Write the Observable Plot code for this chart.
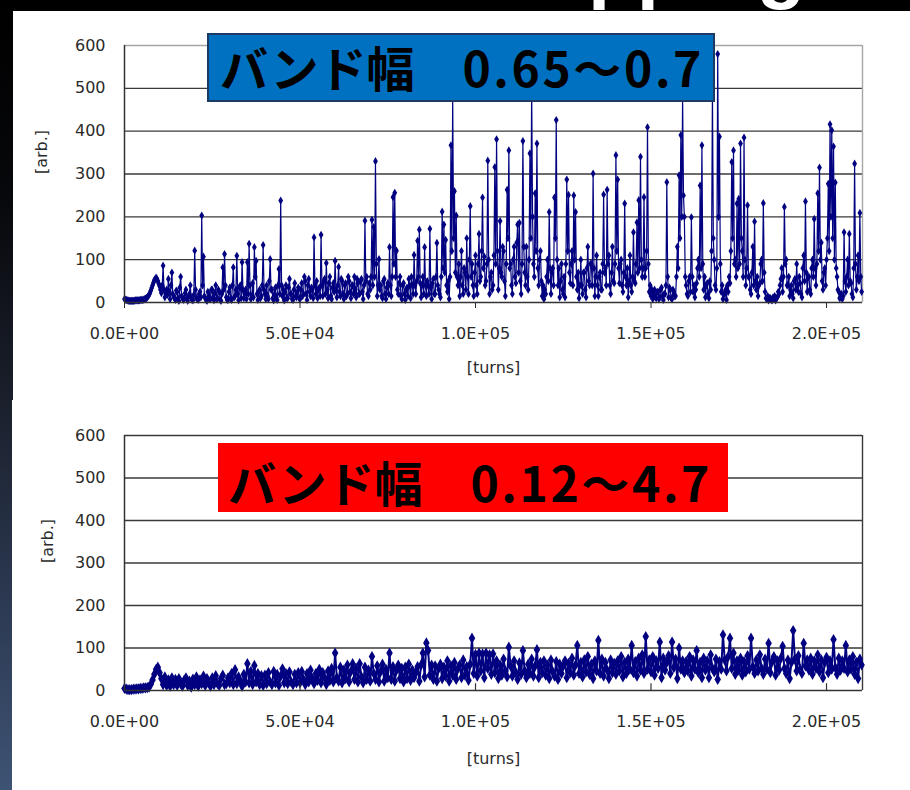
<!DOCTYPE html>
<html><head><meta charset="utf-8">
<script src="https://cdn.jsdelivr.net/npm/d3@7"></script>
<script src="https://cdn.jsdelivr.net/npm/@observablehq/plot@0.6"></script>
<style>
html,body{margin:0;padding:0;background:#000;}
#page{position:relative;width:910px;height:790px;overflow:hidden;background:#000;}
.abs{position:absolute;}
#strip{left:0;top:0;width:16px;height:790px;background:linear-gradient(to bottom,#000 0%,#07080b 25%,#1a1f2b 50%,#2b3850 75%,#3e5374 100%);}
#panel1{left:13px;top:11px;width:897px;height:389px;background:#fff;}
#panel2{left:12px;top:400px;width:898px;height:390px;background:#fff;}
#chart1{left:0;top:0;}
#chart2{left:0;top:390px;}
.box{font-family:"Noto Sans CJK JP";font-weight:bold;font-size:48px;color:#000;white-space:pre;box-sizing:border-box;}
.box .num{letter-spacing:2.6px;}
#box1{left:207px;top:33px;width:508px;height:69px;background:#0070c0;border:2px solid #1c3a64;padding-left:11px;line-height:62px;}
#box2{left:218px;top:443px;width:510px;height:69px;background:#ff0000;padding-left:10px;line-height:76px;}
#toptitle{left:0;top:0;}
</style>
</head><body>
<div id="page">
  <svg id="toptitle" class="abs" width="910" height="11"><text x="588" y="-7" font-family="Liberation Sans" font-weight="bold" font-size="80" fill="#fff">pping</text></svg>
  <div id="strip" class="abs"></div>
  <div id="panel1" class="abs"></div>
  <div id="panel2" class="abs"></div>
  <div id="chart1" class="abs"></div>
  <div id="chart2" class="abs"></div>
  <div id="box1" class="abs box"></div>
  <div id="box2" class="abs box"></div>
</div>
<script>
// ---- data ----
const STEP_TOP = 250;    // turns between samples, upper chart
const STEP_BOTTOM = 500; // turns between samples, lower chart
const titleWord = "バンド幅";
const rangeTop = "0.65～0.7";
const rangeBottom = "0.12～4.7";
const yTicks = [0, 100, 200, 300, 400, 500, 600];
const xTicks = [0, 50000, 100000, 150000, 200000];
const yLabel = "[arb.]";
const xLabel = "[turns]";

const seriesTop = [
  8,7,6,5,5,4,4,4,4,4,4,4,5,5,5,5,5,5,6,6,
  6,6,7,8,9,10,12,15,18,22,28,34,40,46,52,55,58,55,50,44,
  38,30,22,40,86,30,12,20,30,18,55,25,8,40,70,20,15,10,6,28,
  25,10,4,35,60,15,12,6,8,22,30,10,4,15,20,40,10,6,5,18,
  121,30,10,8,6,20,25,12,203,40,107,15,10,6,4,25,20,10,8,30,
  30,12,5,22,40,8,10,30,25,6,4,20,82,30,113,40,12,6,6,25,
  35,10,6,40,82,12,15,30,109,20,5,35,40,10,94,30,10,20,30,8,
  94,20,137,40,8,15,45,12,129,60,97,20,6,25,30,10,15,40,134,30,
  20,8,40,15,8,50,101,30,30,10,5,20,35,12,6,40,78,20,238,40,
  15,30,5,25,40,10,10,35,55,20,20,8,6,30,45,15,12,25,35,10,
  8,30,45,15,20,60,50,20,6,40,55,25,15,35,30,10,152,40,20,50,
  10,30,35,15,158,40,15,50,55,20,92,30,10,45,60,15,8,35,45,25,
  97,30,12,40,83,25,15,55,50,20,8,40,45,15,20,60,50,25,10,40,
  40,20,60,30,12,55,45,20,20,50,55,25,8,40,191,50,60,20,15,45,
  30,60,193,40,176,60,330,90,15,40,101,30,40,15,10,50,55,20,8,35,
  45,20,129,40,15,60,246,90,256,60,121,30,20,45,60,15,8,40,45,20,
  6,30,35,15,55,40,10,60,40,20,111,40,20,50,144,60,170,45,12,40,
  60,20,129,40,15,50,40,20,172,35,8,45,55,20,20,60,139,40,30,20,
  12,60,212,80,182,70,146,40,25,50,8,60,367,120,480,150,260,70,203,60,
  40,90,15,60,120,40,20,80,70,30,150,60,20,100,225,60,90,40,15,70,
  110,40,20,90,160,50,60,120,245,80,107,40,50,90,331,100,20,60,70,30,
  40,110,316,90,381,120,30,80,190,70,60,130,120,50,15,90,263,150,355,80,
  90,40,20,100,130,60,45,140,182,70,186,50,20,90,377,130,70,40,130,60,
  30,100,348,150,500,200,90,60,255,120,371,80,40,100,120,50,15,40,8,30,
  20,60,100,50,211,80,20,70,80,40,245,150,426,100,40,80,12,50,90,30,
  20,60,12,90,287,120,251,70,45,90,120,40,250,100,211,60,30,70,10,40,
  100,40,20,70,70,30,12,80,130,50,40,90,90,40,301,80,15,60,110,40,
  15,60,70,30,30,90,252,70,80,40,263,90,110,40,20,70,130,50,45,90,
  344,120,287,80,45,90,100,40,25,70,231,60,40,80,12,50,110,40,25,60,
  164,50,45,90,187,70,239,80,340,100,60,80,246,60,80,120,409,90,25,40,
  15,30,8,20,30,12,10,25,25,8,12,30,35,15,6,20,20,40,281,60,
  12,35,30,10,8,30,25,15,15,60,130,80,297,150,391,200,480,250,200,60,
  40,20,15,50,60,25,199,60,25,40,12,30,45,80,100,60,273,80,367,90,
  30,60,12,40,45,20,10,50,30,120,495,150,100,40,30,80,580,200,387,90,
  25,40,8,20,20,30,6,40,25,60,45,120,328,150,355,90,100,60,231,80,
  242,90,371,150,120,60,385,100,40,80,227,60,60,30,20,70,130,40,189,50,
  30,60,15,40,45,90,100,50,232,70,25,10,8,15,5,10,10,6,5,12,
  8,15,5,10,12,25,20,40,55,80,25,60,223,90,100,40,40,60,15,30,
  40,20,10,50,55,30,90,40,25,60,45,20,12,80,110,50,236,70,25,60,
  60,30,20,80,100,60,195,80,40,90,255,120,315,100,140,50,30,70,80,40,
  100,150,277,120,416,200,402,150,364,100,280,80,60,30,25,10,12,20,8,15,
  164,50,25,60,100,40,160,50,45,20,12,80,324,90,30,60,110,50,209,60,
  25
];

const seriesBottom = [
  5,3,2,2,2,3,3,4,4,5,
  5,6,6,7,8,15,25,38,50,55,
  42,28,14,32,12,25,10,30,14,26,
  12,28,16,10,24,30,12,22,8,27,
  14,32,10,25,16,34,12,28,18,10,
  30,14,35,16,12,28,36,14,16,30,
  18,40,14,49,16,32,22,10,38,20,
  63,18,45,14,59,20,40,14,35,12,
  36,16,42,20,14,45,18,38,12,34,
  51,18,40,16,44,20,14,38,18,42,
  18,45,26,14,40,20,48,28,16,40,
  24,50,18,42,30,14,46,24,52,20,
  88,30,22,55,18,48,28,60,20,45,
  63,26,52,20,63,32,18,55,26,48,
  22,80,40,26,58,20,45,62,22,50,
  30,88,26,56,22,48,60,28,52,20,
  55,28,62,24,48,30,42,56,22,60,
  88,32,112,94,36,60,26,58,22,52,
  62,28,55,34,70,22,58,36,66,26,
  52,60,30,72,36,56,24,62,123,40,
  85,34,88,46,86,30,88,52,84,38,
  86,42,70,28,60,36,74,46,32,102,
  58,34,70,42,26,65,38,94,46,30,
  62,40,74,34,58,96,30,66,42,70,
  36,60,28,72,44,34,68,26,62,40,
  58,70,30,64,42,76,36,60,106,40,
  66,32,72,44,80,38,62,28,70,46,
  118,40,74,34,66,48,28,72,42,64,
  38,70,46,80,32,66,40,74,50,106,
  42,68,34,76,48,84,40,127,50,72,
  44,80,36,70,52,114,30,76,48,66,
  82,40,114,54,74,28,100,50,70,42,
  68,46,80,34,72,50,94,42,66,30,
  76,48,70,30,84,52,44,74,26,68,
  50,131,72,46,80,123,52,88,38,70,
  48,76,36,68,44,82,50,123,56,40,
  72,46,84,52,38,74,50,111,42,68,
  80,36,70,48,76,104,52,40,72,28,
  66,141,74,46,82,50,40,111,58,72,
  48,76,38,70,52,84,44,72,30,66,
  78,42,70,50,120,54,38,76,48,70,
  52,106,44,72,50,80,38,66,28,74,
  60
];

// ---- drawing ----
const X_MAX = 210250;
const NAVY = "#000080";

function sciFmt(v) {
  const [m, e] = v.toExponential(1).split("e");
  return m + "E" + e[0] + e.slice(1).padStart(2, "0");
}

function makeChart(values, o) {
  const data = values.map((v, i) => ({t: i * o.step, v}));
  return Plot.plot({
    width: 910,
    height: 400,
    marginLeft: 124,
    marginRight: 48,
    marginTop: 45,
    marginBottom: o.marginBottom,
    style: {background: "transparent", fontFamily: "DejaVu Sans", fontSize: "16px", color: "#2a2a2a", overflow: "visible"},
    x: {domain: [0, X_MAX], ticks: xTicks, tickFormat: sciFmt, tickSize: o.outTicks ? 6 : 0, tickPadding: o.outTicks ? 19 : 25, label: null},
    y: {domain: [0, 600], ticks: yTicks, tickSize: 0, tickPadding: 19, label: null},
    marks: [
      Plot.ruleY(yTicks.filter(d => d > 0 && d < 600), {stroke: "#3a3a3a", strokeWidth: 1.4}),
      Plot.ruleY([600], {stroke: o.frame, strokeWidth: 1.4}),
      Plot.ruleX([X_MAX], {stroke: o.frame, strokeWidth: 1.4}),
      Plot.line(data, {x: "t", y: "v", stroke: NAVY, strokeWidth: o.lineWidth}),
      Plot.dot(data, {x: "t", y: "v", symbol: "diamond", r: o.dotR, fill: NAVY}),
      Plot.ruleX([0], {stroke: "#333", strokeWidth: 1.5}),
      Plot.ruleY([0], {stroke: "#333", strokeWidth: 1.5}),
      o.outTicks ? null : Plot.ruleX(xTicks.filter(d => d > 0), {y1: 0, y2: 16, stroke: "#333", strokeWidth: 1.2}),
      Plot.text([yLabel], {text: d => d, frameAnchor: "left", dx: o.yLabelDx, rotate: -90, fontSize: 16}),
      Plot.text([xLabel], {text: d => d, frameAnchor: "bottom", dy: o.xLabelDy, fontSize: 16})
    ]
  });
}

function fillBox(id, word, range) {
  const el = document.getElementById(id);
  el.textContent = "";
  el.appendChild(document.createTextNode(word + "　"));
  const s = document.createElement("span");
  s.className = "num";
  s.textContent = range;
  el.appendChild(s);
}

document.getElementById("chart1").appendChild(makeChart(seriesTop, {step: STEP_TOP, marginBottom: 98, frame: "#a6a6a6", outTicks: true, yLabelDx: -83, xLabelDy: 70, lineWidth: 1.2, dotR: 2.5}));
document.getElementById("chart2").appendChild(makeChart(seriesBottom, {step: STEP_BOTTOM, marginBottom: 100, frame: "#3a3a3a", outTicks: false, yLabelDx: -77, xLabelDy: 73, lineWidth: 2, dotR: 3.4}));
fillBox("box1", titleWord, rangeTop);
fillBox("box2", titleWord, rangeBottom);
</script>
</body></html>
